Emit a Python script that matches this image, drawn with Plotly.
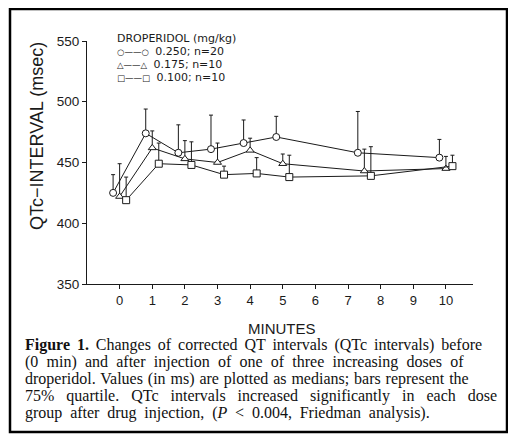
import plotly.graph_objects as go

# ---------------- data ----------------
minutes = [0, 1, 2, 3, 4, 5, 7.5, 10]
x_ticks = [0, 1, 2, 3, 4, 5, 6, 7, 8, 9, 10]
y_ticks = [350, 400, 450, 500, 550]

dose_labels = ["0.250; n=20", "0.175; n=10", "0.100; n=10"]
median_250 = [425, 474, 458, 461, 466, 471, 458, 454]
q75_250 = [440, 494, 481, 489, 485, 488, 492, 469]
median_175 = [422, 462, 453, 450, 460, 449, 443, 445]
q75_175 = [449, 476, 468, 466, 470, 457, 461, 455]
median_100 = [419, 449, 448, 440, 441, 438, 439, 447]
q75_100 = [438, 466, 467, 447, 454, 456, 463, 456]

# ---------------- layout helpers ----------------
# the html body has an 8px margin, so the figure is drawn 8px smaller / shifted
OFF = 8
W, H = 516 - 2 * OFF, 442 - 2 * OFF
# plot area in reference-page pixels
L, R, T, B = 87, 473, 41, 284


def px_x(p):
    return (p - L) / (R - L)


def px_y(p):
    return (B - p) / (B - T)


INK = "#1a1a1a"
SANS = "Liberation Sans, Arial, sans-serif"
SERIF = "Liberation Serif, Times New Roman, serif"

series = [
    (median_250, q75_250, "circle", -0.2, 7),
    (median_175, q75_175, "triangle-up", 0.0, 7),
    (median_100, q75_100, "square", 0.2, 7),
]

fig = go.Figure()
for (med, q75, sym, off, size), name in zip(series, dose_labels):
    fig.add_trace(go.Scatter(
        x=[m + off for m in minutes],
        y=med,
        name=name,
        mode="lines+markers",
        line=dict(color=INK, width=1),
        marker=dict(symbol=sym, size=size, color="white",
                    line=dict(color=INK, width=1)),
        error_y=dict(type="data", symmetric=False,
                     array=[q - m for q, m in zip(q75, med)],
                     arrayminus=[0] * len(med),
                     color=INK, thickness=1, width=2),
        showlegend=False,
    ))

fig.update_layout(
    width=W, height=H, autosize=False,
    margin=dict(l=L - OFF, r=W - (R - OFF), t=T - OFF, b=H - (B - OFF), pad=0),
    paper_bgcolor="white", plot_bgcolor="white",
    font=dict(family=SANS, color=INK, size=13),
    xaxis=dict(range=[-1, 10.83], tickvals=x_ticks, ticks="outside", ticklen=4,
               tickwidth=1, tickcolor=INK, showline=True, linecolor=INK, linewidth=1,
               showgrid=False, zeroline=False, tickfont=dict(size=13)),
    yaxis=dict(range=[350, 550], tickvals=y_ticks, ticks="outside", ticklen=4,
               tickwidth=1, tickcolor=INK, showline=True, linecolor=INK, linewidth=1,
               showgrid=False, zeroline=False, tickfont=dict(size=13.5)),
    showlegend=False,
)

ann = []
# axis titles
ann.append(dict(text="QTc\u2212INTERVAL (msec)", x=px_x(37), y=px_y(136), xref="paper", yref="paper",
                showarrow=False, textangle=-90, font=dict(size=18, family=SANS, color=INK),
                xanchor="center", yanchor="middle"))
ann.append(dict(text="MINUTES", x=px_x(281.5), y=px_y(328), xref="paper", yref="paper",
                showarrow=False, font=dict(size=15, family=SANS, color=INK),
                xanchor="center", yanchor="middle"))

# legend (title + rows in one text block)
glyphs = ["\u25CB\u2014\u2014\u25CB", "\u25B3\u2014\u2014\u25B3", "\u25A1\u2014\u2014\u25A1"]
rows = ['<span style="font-size:11px">DROPERIDOL (mg/kg)</span>']
for g, lab in zip(glyphs, dose_labels):
    rows.append('<span style="font-size:8.5px">' + g + '</span>\u00a0\u00a0'
                + '<span style="font-size:11px">' + lab + '</span>')
ann.append(dict(text="<br>".join(rows), x=px_x(115), y=px_y(58), xref="paper", yref="paper",
                showarrow=False, align="left", font=dict(size=10, family="DejaVu Sans", color=INK),
                xanchor="left", yanchor="middle"))

# caption (justified by word spacing)
caption = [
    "<b>Figure 1.</b> Changes of corrected QT intervals (QTc intervals) before",
    "(0 min) and after injection of one of three increasing doses of",
    "droperidol. Values (in ms) are plotted as medians; bars represent the",
    "75% quartile. QTc intervals increased significantly in each dose",
    "group after drug injection, (<i>P</i> &lt; 0.004, Friedman analysis).",
]
word_sp = [2.9, 4.2, 0.9, 8.0, 3.8]
cap_y = [345, 362.3, 379.3, 396, 412.7]
for line, ws, yy in zip(caption, word_sp, cap_y):
    txt = '<span style="word-spacing:%.1fpx">%s</span>' % (ws, line) if ws else line
    ann.append(dict(text=txt, x=px_x(23), y=px_y(yy), xref="paper", yref="paper",
                    showarrow=False, font=dict(size=16, family=SERIF, color="#111"),
                    xanchor="left", yanchor="middle"))

fig.update_layout(annotations=ann)

# figure border
fig.add_shape(type="rect", xref="paper", yref="paper",
              x0=px_x(10), x1=px_x(507), y0=px_y(432), y1=px_y(9),
              line=dict(color="black", width=2.5), fillcolor="rgba(0,0,0,0)", layer="above")

fig.write_html("out.html")
